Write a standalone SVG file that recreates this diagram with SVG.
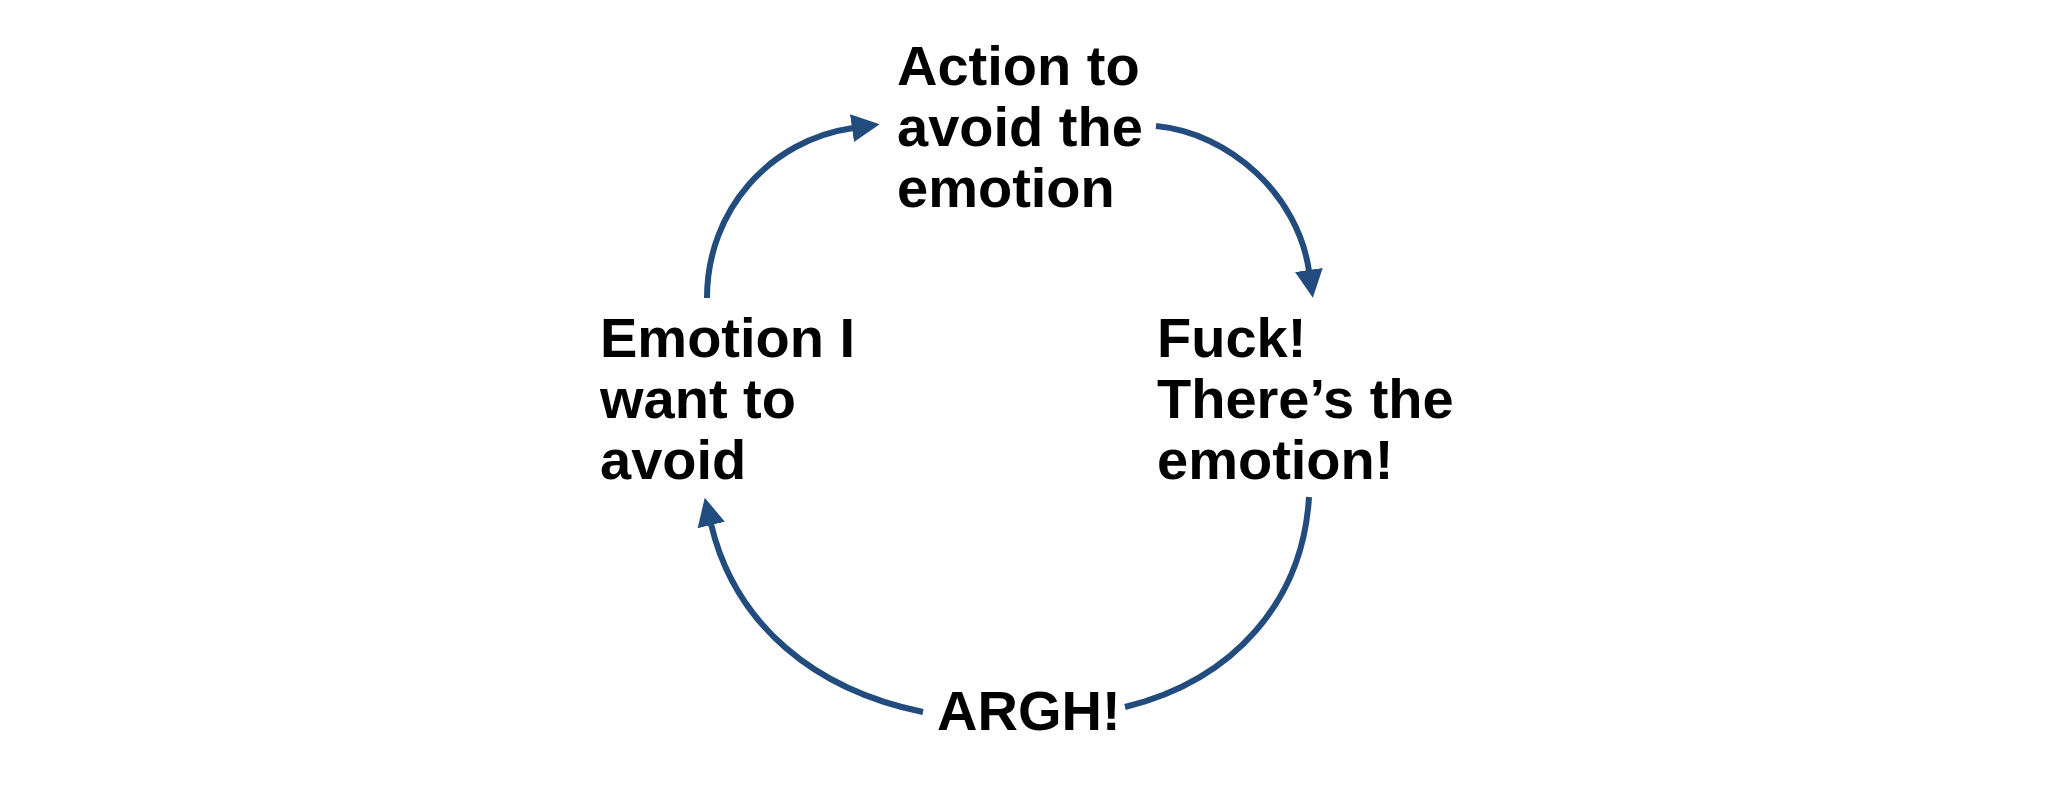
<svg xmlns="http://www.w3.org/2000/svg" width="2050" height="792" viewBox="0 0 2050 792">
  <style>
    .lbl { font-family: "Liberation Sans", Arial, Helvetica, sans-serif; font-weight: bold; font-size: 56px; fill: #000000; }
    .conn { fill: none; stroke: #224c7d; stroke-width: 6; }
  </style>
  <defs>
    <marker id="arrow" markerUnits="userSpaceOnUse" viewBox="0 0 28 28" markerWidth="28" markerHeight="28" refX="1" refY="14" orient="auto">
      <path d="M0,0 L28,14 L0,28 Z" fill="#224c7d"/>
    </marker>
  </defs>
  <rect width="2050" height="792" fill="#ffffff"/>
  <g id="connectors">
    <path class="conn" d="M707,298 C707,210 770,140 853,128" marker-end="url(#arrow)"/>
    <path class="conn" d="M1156,126 C1230,133 1298,195 1309,271" marker-end="url(#arrow)"/>
    <path class="conn" d="M1309,497 C1303,600 1235,680 1125,707"/>
    <path class="conn" d="M923,712 C815,690 735,625 711,524" marker-end="url(#arrow)"/>
  </g>
  <g id="node-action">
    <text class="lbl" x="897" y="85">Action to</text>
    <text class="lbl" x="897" y="146">avoid the</text>
    <text class="lbl" x="897" y="207">emotion</text>
  </g>
  <g id="node-emotion">
    <text class="lbl" x="600" y="357">Emotion I</text>
    <text class="lbl" x="600" y="418">want to</text>
    <text class="lbl" x="600" y="479">avoid</text>
  </g>
  <g id="node-fuck">
    <text class="lbl" x="1157" y="357">Fuck!</text>
    <text class="lbl" x="1157" y="418">There’s the</text>
    <text class="lbl" x="1157" y="479">emotion!</text>
  </g>
  <g id="node-argh">
    <text class="lbl" x="937" y="730">ARGH!</text>
  </g>
</svg>
